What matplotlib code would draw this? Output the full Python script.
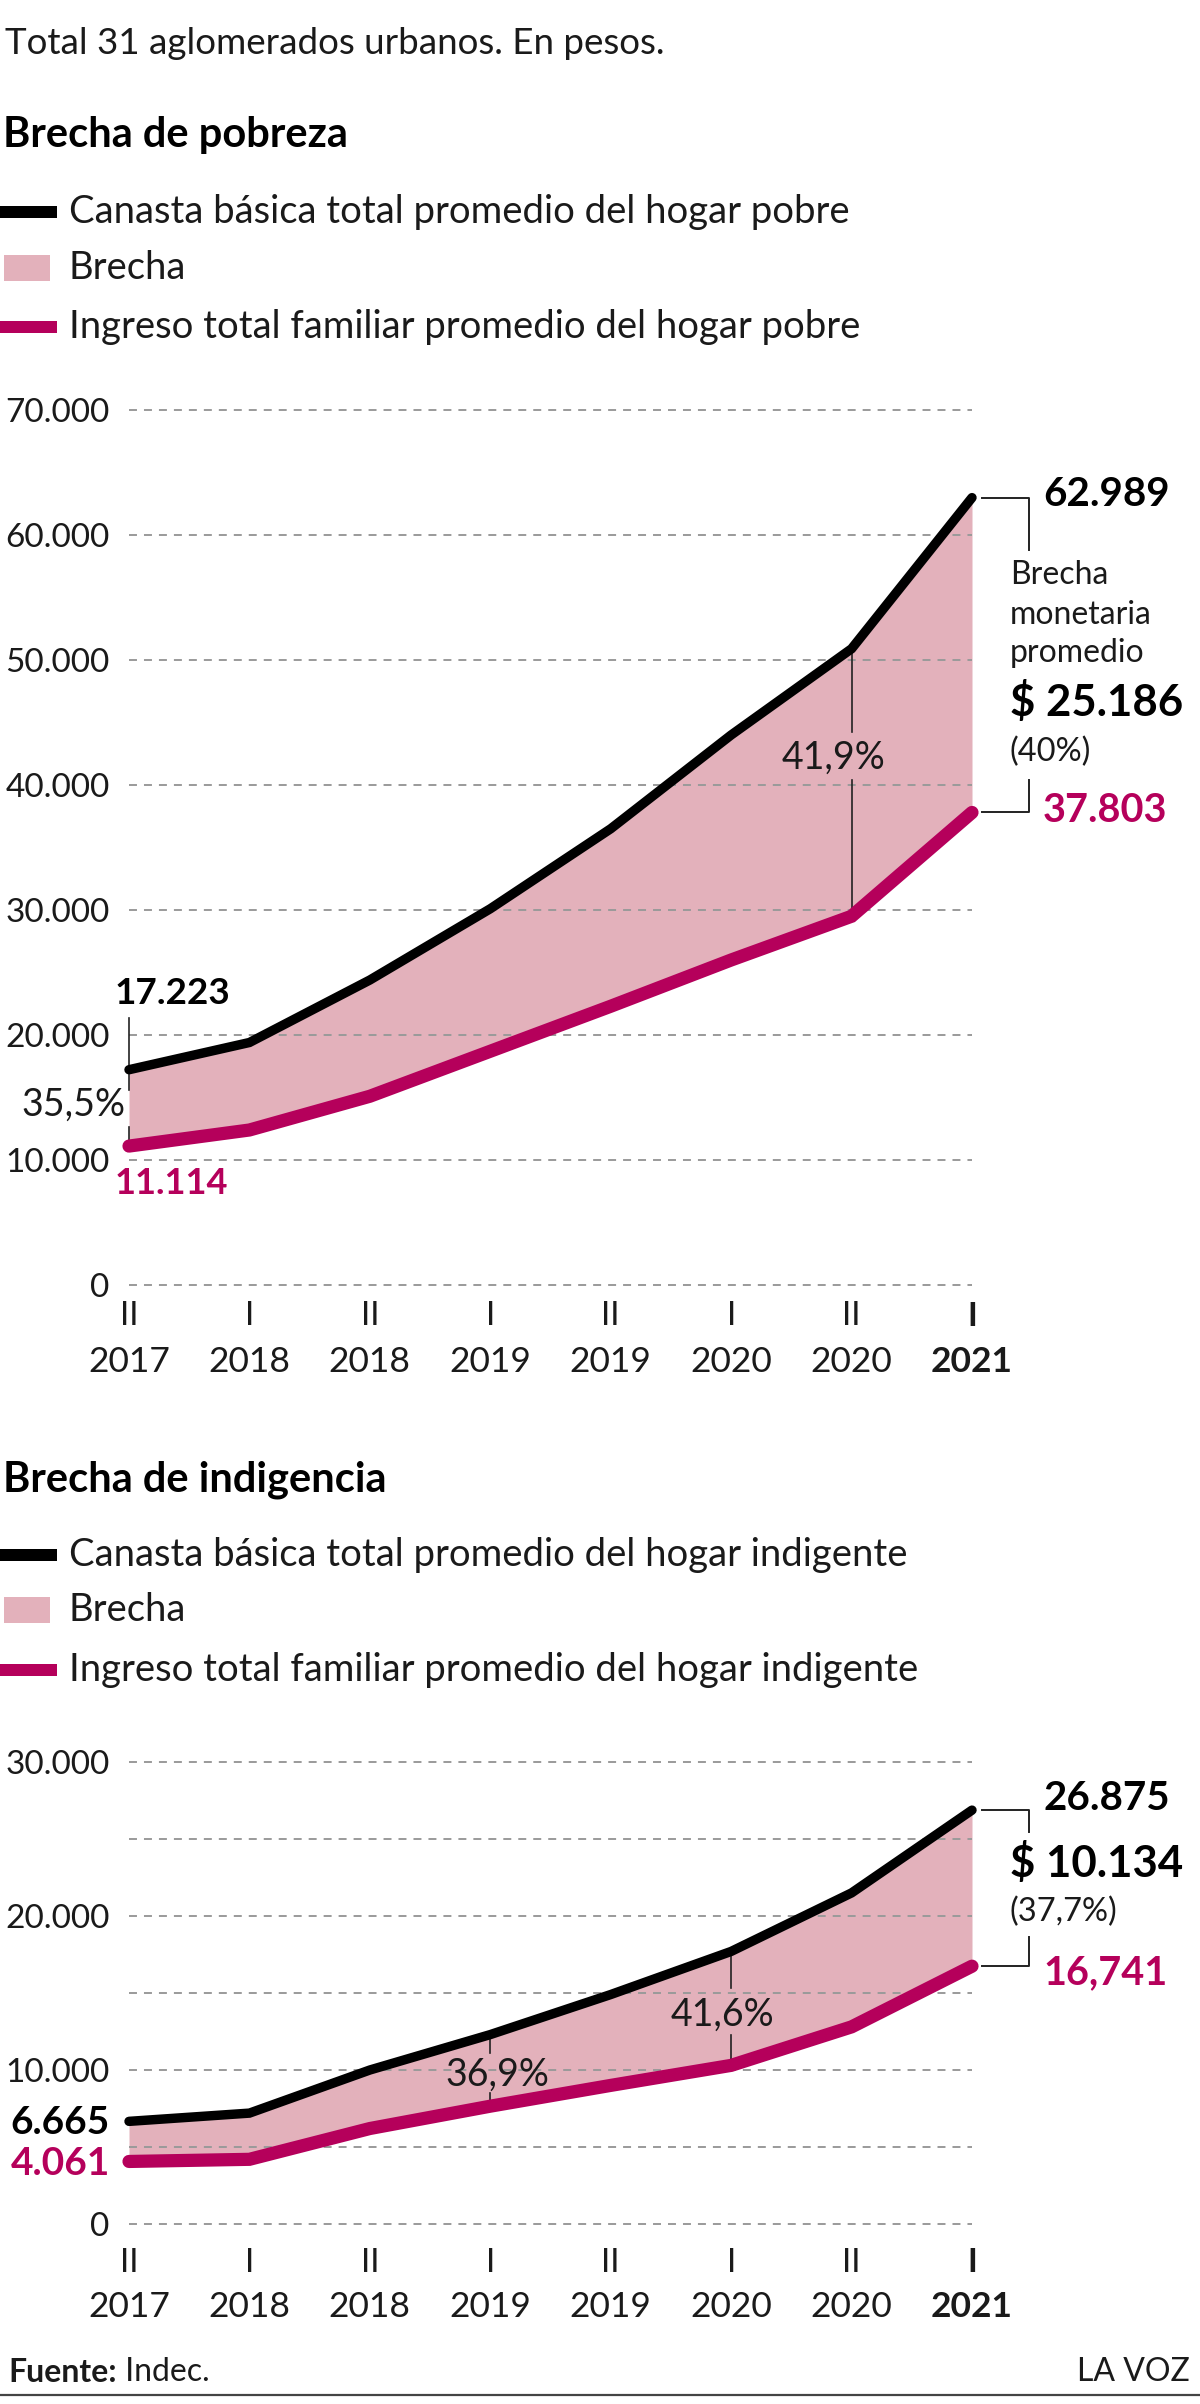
import matplotlib
matplotlib.use('Agg')
import matplotlib.pyplot as plt
from matplotlib.patches import Rectangle

plt.rcParams['font.family'] = ['Lato', 'DejaVu Sans']

# Colores
NEGRO = '#000000'
MAGENTA = '#b5005b'
ROSA = '#e3b1bb'
GRILLA = '#9a9a9a'
TEXTO = '#1a1a1a'

# Eje x (semestre / año)
semestres = ['II', 'I', 'II', 'I', 'II', 'I', 'II', 'I']
anios = ['2017', '2018', '2018', '2019', '2019', '2020', '2020', '2021']

# Brecha de pobreza (pesos)
canasta_pobre = [17223, 19400, 24400, 30100, 36500, 44000, 50900, 62989]
ingreso_pobre = [11114, 12400, 15100, 18700, 22300, 26000, 29500, 37803]

# Brecha de indigencia (pesos)
canasta_indig = [6665, 7200, 10000, 12300, 14900, 17700, 21500, 26875]
ingreso_indig = [4061, 4200, 6200, 7650, 9000, 10300, 12800, 16741]

W, H = 1200, 2404
fig = plt.figure(figsize=(W / 100, H / 100), dpi=100)

# capa de fondo en pixeles para titulos y leyendas
fondo = fig.add_axes([0, 0, 1, 1])
fondo.set_xlim(0, W)
fondo.set_ylim(H, 0)
fondo.axis('off')


def rect_px(x0, x1, y_top, y_bot):
    return [x0 / W, 1 - y_bot / H, (x1 - x0) / W, (y_bot - y_top) / H]


def leyenda(y_titulo, titulo, ys, textos):
    fondo.text(3, y_titulo, titulo, fontsize=30, fontweight='bold', color=NEGRO,
               ha='left', va='center')
    fondo.add_patch(Rectangle((0, ys[0] - 6), 57, 12, color=NEGRO, lw=0))
    fondo.add_patch(Rectangle((4, ys[1] - 13), 46, 26, color=ROSA, lw=0))
    fondo.add_patch(Rectangle((0, ys[2] - 6), 57, 12, color=MAGENTA, lw=0))
    for y, t in zip(ys, textos):
        fondo.text(69, y, t, fontsize=27.5, color=TEXTO, ha='left', va='center')


def panel(rect, canasta, ingreso, ymax, paso, paso_etiqueta, off_sem, off_anio):
    ax = fig.add_axes(rect)
    ax.patch.set_alpha(0)
    x = list(range(len(canasta)))
    ax.fill_between(x, ingreso, canasta, color=ROSA, lw=0, zorder=1)
    ax.plot(x, ingreso, color=MAGENTA, lw=9.5, solid_capstyle='round',
            solid_joinstyle='miter', zorder=3, clip_on=False)
    ax.plot(x, canasta, color=NEGRO, lw=6.8, solid_capstyle='round',
            solid_joinstyle='miter', zorder=4, clip_on=False)
    ax.set_xlim(0, len(x) - 1)
    ax.set_ylim(0, ymax)
    ticks = list(range(0, ymax + 1, paso))
    ax.set_yticks(ticks)
    ax.set_yticklabels([f'{t:,}'.replace(',', '.') if t % paso_etiqueta == 0 else ''
                        for t in ticks])
    ax.set_axisbelow(False)
    ax.grid(axis='y', color=GRILLA, lw=1.4, ls=(0, (4.1, 3.6)))
    for gl in ax.get_ygridlines():
        gl.set_clip_on(False)
    ax.tick_params(axis='y', length=0, pad=14, labelsize=24, labelcolor=TEXTO)
    ax.set_xticks([])
    for s in ax.spines.values():
        s.set_visible(False)
    for i, (s, a) in enumerate(zip(semestres, anios)):
        peso = 'bold' if i == len(anios) - 1 else 'normal'
        ax.annotate(s, (i, 0), xytext=(0, -off_sem), textcoords='offset pixels',
                    ha='center', va='center', fontsize=24, fontweight=peso, color=TEXTO)
        ax.annotate(a, (i, 0), xytext=(0, -off_anio), textcoords='offset pixels',
                    ha='center', va='center', fontsize=25.5, fontweight=peso, color=TEXTO)
    return ax


def linea(ax, xs, ys, lw=1.2):
    ax.plot(xs, ys, color='#222222', lw=lw, zorder=2.6, clip_on=False)


# Titulo general
fondo.text(5, 43, 'Total 31 aglomerados urbanos. En pesos.', fontsize=26.5,
           color=TEXTO, ha='left', va='center')

# ---------------- Brecha de pobreza ----------------
leyenda(135, 'Brecha de pobreza', [212, 268, 327],
        ['Canasta básica total promedio del hogar pobre', 'Brecha',
         'Ingreso total familiar promedio del hogar pobre'])

ax1 = panel(rect_px(129, 972, 410, 1285), canasta_pobre, ingreso_pobre,
            70000, 10000, 10000, 31, 77)

ax1.text(-0.116, 23360, '17.223', fontsize=26.5, fontweight='bold', color=NEGRO,
         ha='left', va='center')
linea(ax1, [0, 0], [21360, canasta_pobre[0]])
linea(ax1, [0, 0], [canasta_pobre[0], 15600])
linea(ax1, [0, 0], [12640, ingreso_pobre[0]])
ax1.text(-0.033, 14400, '35,5%', fontsize=27, color=TEXTO, ha='right', va='center')
ax1.text(-0.116, 8160, '11.114', fontsize=26, fontweight='bold', color=MAGENTA,
         ha='left', va='center')

linea(ax1, [6, 6], [canasta_pobre[6], 44240])
linea(ax1, [6, 6], [40400, ingreso_pobre[6]])
ax1.text(5.846, 42160, '41,9%', fontsize=27, color=TEXTO, ha='center', va='center')

linea(ax1, [7.083, 7.473, 7.473], [canasta_pobre[7], canasta_pobre[7], 58800], lw=1.4)
linea(ax1, [7.473, 7.473, 7.083], [40400, ingreso_pobre[7], ingreso_pobre[7]], lw=1.4)
ax1.text(7.59, 63200, '62.989', fontsize=29, fontweight='bold', color=NEGRO,
         ha='left', va='center')
for yv, t in zip([56800, 53600, 50560], ['Brecha', 'monetaria', 'promedio']):
    ax1.text(7.315, yv, t, fontsize=23, color=TEXTO, ha='left', va='center')
ax1.text(7.315, 46640, '$ 25.186', fontsize=31.5, fontweight='bold', color=NEGRO,
         ha='left', va='center')
ax1.text(7.315, 42640, '(40%)', fontsize=23.5, color=TEXTO, ha='left', va='center')
ax1.text(7.59, 38000, '37.803', fontsize=28.5, fontweight='bold', color=MAGENTA,
         ha='left', va='center')

# ---------------- Brecha de indigencia ----------------
leyenda(1480, 'Brecha de indigencia', [1555, 1610, 1670],
        ['Canasta básica total promedio del hogar indigente', 'Brecha',
         'Ingreso total familiar promedio del hogar indigente'])

ax2 = panel(rect_px(129, 972, 1762, 2224), canasta_indig, ingreso_indig,
            30000, 5000, 10000, 39, 83)

ax2.text(-0.158, 6620, '6.665', fontsize=28, fontweight='bold', color=NEGRO,
         ha='right', va='center')
ax2.text(-0.158, 3960, '4.061', fontsize=28, fontweight='bold', color=MAGENTA,
         ha='right', va='center')

linea(ax2, [3, 3], [canasta_indig[3], 11100])
linea(ax2, [3, 3], [8500, ingreso_indig[3]])
ax2.text(3.056, 9680, '36,9%', fontsize=27, color=TEXTO, ha='center', va='center')

linea(ax2, [5, 5], [canasta_indig[5], 15330])
linea(ax2, [5, 5], [12270, ingreso_indig[5]])
ax2.text(4.924, 13570, '41,6%', fontsize=27, color=TEXTO, ha='center', va='center')

linea(ax2, [7.083, 7.473, 7.473], [canasta_indig[7], canasta_indig[7], 25460], lw=1.4)
linea(ax2, [7.473, 7.473, 7.083], [18640, ingreso_indig[7], ingreso_indig[7]], lw=1.4)
ax2.text(7.59, 27660, '26.875', fontsize=29, fontweight='bold', color=NEGRO,
         ha='left', va='center')
ax2.text(7.315, 23440, '$ 10.134', fontsize=31.5, fontweight='bold', color=NEGRO,
         ha='left', va='center')
ax2.text(7.315, 20260, '(37,7%)', fontsize=23.5, color=TEXTO, ha='left', va='center')
ax2.text(7.59, 16300, '16,741', fontsize=28.5, fontweight='bold', color=MAGENTA,
         ha='left', va='center')

# ---------------- Pie ----------------
fuente = fondo.text(8, 2372, 'Fuente:', fontsize=23, fontweight='bold', color=TEXTO,
                    ha='left', va='center')
fondo.annotate(' Indec.', xycoords=fuente, xy=(1, 0.5), va='center', ha='left',
               fontsize=23, color=TEXTO)
fondo.text(1190, 2372, 'LA VOZ', fontsize=23, color=TEXTO, ha='right', va='center')
fondo.plot([0, W], [2395, 2395], color='#444444', lw=1.6)

fig.savefig('out.png', dpi=100)
